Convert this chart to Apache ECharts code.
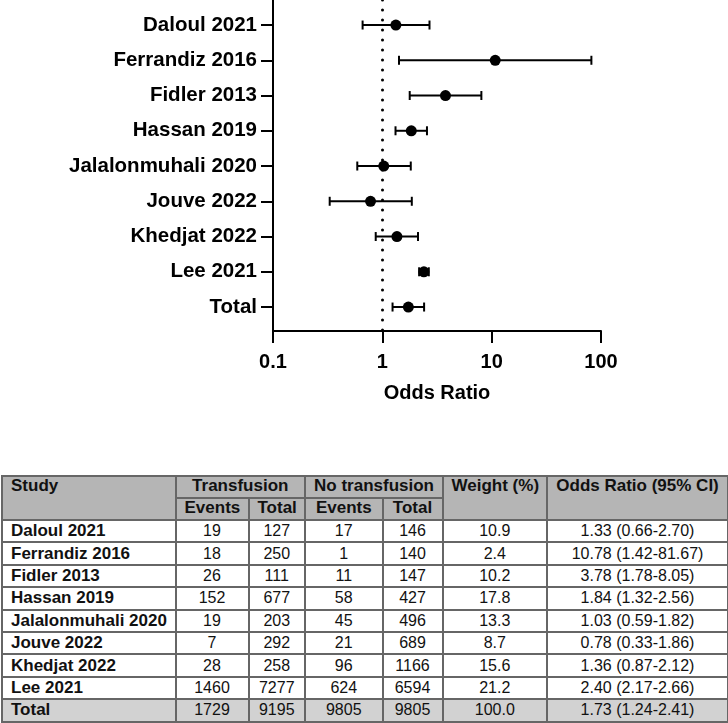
<!DOCTYPE html>
<html>
<head>
<meta charset="utf-8">
<script src="https://cdn.jsdelivr.net/npm/echarts@6/dist/echarts.min.js"></script>
<style>
  html, body { margin:0; padding:0; background:#fff; width:728px; height:723px; overflow:hidden; }
  #chart { position:absolute; left:0; top:0; width:728px; height:470px; }
  #tbl { position:absolute; left:1px; top:475px; border-collapse:collapse; table-layout:fixed; width:726px;
         font-family:"Liberation Sans", Arial, sans-serif; font-size:16px; color:#111; }
  #tbl td, #tbl th { border:2px solid #666; padding:0 8px; line-height:18px; white-space:nowrap; overflow:hidden; }
  #tbl thead th { background:#b5b5b5; font-weight:bold; font-size:17px; text-align:center; vertical-align:top; height:20px; }
  #tbl thead th.left { text-align:left; }
  #tbl tbody td { text-align:center; height:20.4px; }
  #tbl tbody td.name { text-align:left; font-weight:bold; font-size:17px; }
  #tbl tbody tr.total td { background:#d2d2d2; }
</style>
</head>
<body>
<div id="chart"></div>
<table id="tbl"></table>
<script>
// ---- data ----
var studies    = ['Daloul 2021','Ferrandiz 2016','Fidler 2013','Hassan 2019','Jalalonmuhali 2020','Jouve 2022','Khedjat 2022','Lee 2021','Total'];
var orValues   = [1.33, 10.78, 3.78, 1.84, 1.03, 0.78, 1.36, 2.40, 1.73];
var ciLow      = [0.66, 1.42, 1.78, 1.32, 0.59, 0.33, 0.87, 2.17, 1.24];
var ciHigh     = [2.70, 81.67, 8.05, 2.56, 1.82, 1.86, 2.12, 2.66, 2.41];
var txEvents   = [19, 18, 26, 152, 19, 7, 28, 1460, 1729];
var txTotal    = [127, 250, 111, 677, 203, 292, 258, 7277, 9195];
var noTxEvents = [17, 1, 11, 58, 45, 21, 96, 624, 9805];
var noTxTotal  = [146, 140, 147, 427, 496, 689, 1166, 6594, 9805];
var weights    = [10.9, 2.4, 10.2, 17.8, 13.3, 8.7, 15.6, 21.2, 100.0];
var xTicks     = [0.1, 1, 10, 100];
var xAxisTitle = 'Odds Ratio';
var colWidths  = [173.5, 73, 56.5, 77.5, 60, 104.5, 181];

// ---- chart ----
var font = '"Liberation Sans", Arial, sans-serif';
var rowPos = studies.map(function(s, i){ return i + 1; });
var chart = echarts.init(document.getElementById('chart'), null, {renderer:'canvas'});
chart.setOption({
  animation:false,
  backgroundColor:'#fff',
  grid:{ left:273, top:0, width:328, height:331, containLabel:false },
  xAxis:{
    type:'log', logBase:10, min:xTicks[0], max:xTicks[xTicks.length-1],
    name:xAxisTitle, nameLocation:'middle', nameGap:52,
    nameTextStyle:{ fontFamily:font, fontWeight:'bold', fontSize:20, color:'#000' },
    axisLine:{ show:true, onZero:false, lineStyle:{ color:'#000', width:2 } },
    axisTick:{ show:true, length:12, lineStyle:{ color:'#000', width:2 } },
    axisLabel:{ margin:21, fontFamily:font, fontWeight:'bold', fontSize:20, color:'#000',
      formatter:function(v){ return String(Math.round(v*1000)/1000); } },
    splitLine:{ show:false }, minorTick:{show:false}
  },
  yAxis:{
    type:'value', inverse:true, min:0.29, max:9.68,
    axisLine:{ show:true, onZero:false, lineStyle:{ color:'#000', width:2 } },
    axisTick:{ show:true, length:12, customValues:rowPos, lineStyle:{ color:'#000', width:2 } },
    axisLabel:{ margin:16, customValues:rowPos, fontFamily:font, fontWeight:'bold', fontSize:20.5, color:'#000',
      formatter:function(v){ return studies[Math.round(v)-1] || ''; } },
    splitLine:{ show:false }
  },
  series:[
    {
      type:'custom', z:2,
      data: studies.map(function(s,i){ return [ciLow[i], ciHigh[i], rowPos[i]]; }),
      encode:{ x:[0,1], y:2 },
      renderItem:function(params, api){
        var y = api.value(2);
        var p1 = api.coord([api.value(0), y]);
        var p2 = api.coord([api.value(1), y]);
        var h = 4.5;
        var st = { stroke:'#000', lineWidth:2, fill:null };
        return { type:'group', children:[
          { type:'line', shape:{ x1:p1[0], y1:p1[1], x2:p2[0], y2:p2[1] }, style:st },
          { type:'line', shape:{ x1:p1[0], y1:p1[1]-h, x2:p1[0], y2:p1[1]+h }, style:st },
          { type:'line', shape:{ x1:p2[0], y1:p2[1]-h, x2:p2[0], y2:p2[1]+h }, style:st }
        ]};
      }
    },
    {
      type:'scatter', z:3, symbol:'circle', symbolSize:11,
      itemStyle:{ color:'#000', opacity:1 },
      data: studies.map(function(s,i){ return [orValues[i], rowPos[i]]; }),
      markLine:{
        silent:true, symbol:['none','none'], label:{show:false}, z:1,
        lineStyle:{ color:'#000', width:3, type:[0.1, 9.9], cap:'round', opacity:1 },
        data:[ { xAxis:1 } ]
      }
    }
  ]
});

// ---- table ----
function fmtOR(i){ return orValues[i].toFixed(2) + ' (' + ciLow[i].toFixed(2) + '-' + ciHigh[i].toFixed(2) + ')'; }
var html = '<colgroup>' + colWidths.map(function(w){ return '<col style="width:' + w + 'px">'; }).join('') + '</colgroup>';
html += '<thead><tr><th class="left" rowspan="2">Study</th><th colspan="2">Transfusion</th><th colspan="2">No transfusion</th>' +
        '<th rowspan="2">Weight (%)</th><th rowspan="2">Odds Ratio (95% CI)</th></tr>' +
        '<tr><th>Events</th><th>Total</th><th>Events</th><th>Total</th></tr></thead><tbody>';
studies.forEach(function(s,i){
  html += '<tr' + (i === studies.length-1 ? ' class="total"' : '') + '><td class="name">' + s + '</td><td>' + txEvents[i] +
          '</td><td>' + txTotal[i] + '</td><td>' + noTxEvents[i] + '</td><td>' + noTxTotal[i] + '</td><td>' +
          weights[i].toFixed(1) + '</td><td>' + fmtOR(i) + '</td></tr>';
});
html += '</tbody>';
document.getElementById('tbl').innerHTML = html;
</script>
</body>
</html>
